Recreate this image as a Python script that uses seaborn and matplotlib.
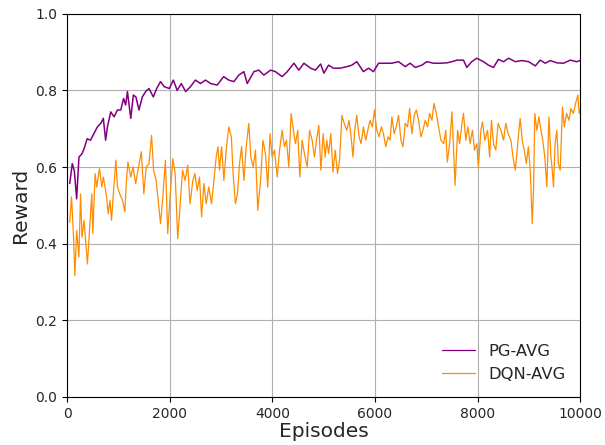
import seaborn as sns
import matplotlib.pyplot as plt
import pandas as pd

# values
pg_episodes = [50, 100, 140, 185, 230, 290, 330, 390, 455, 520, 590, 655, 705, 750, 785,
               850, 915, 980, 1045, 1100, 1140, 1175, 1240, 1290, 1340, 1400, 1465, 1530,
               1595, 1680, 1745, 1820, 1890, 1990, 2070, 2145, 2225, 2310, 2405, 2500, 2600,
               2695, 2795, 2925, 3050, 3150, 3250, 3345, 3445, 3510, 3640, 3735, 3835, 3965,
               4060, 4190, 4290, 4420, 4515, 4615, 4745, 4840, 4940, 5005, 5095, 5190, 5320,
               5450, 5550, 5645, 5775, 5875, 5970, 6070, 6200, 6330, 6460, 6590, 6685, 6785,
               6915, 7010, 7140, 7270, 7400, 7500, 7595, 7725, 7790, 7885, 7985, 8115, 8210,
               8310, 8405, 8505, 8605, 8735, 8865, 8995, 9125, 9220, 9320, 9415, 9545, 9675,
               9805, 9935, 10000]
pg_reward = [0.557, 0.609, 0.59, 0.517, 0.626, 0.635, 0.648, 0.674, 0.67, 0.687, 0.705, 0.714,
             0.727, 0.67, 0.705, 0.744, 0.731, 0.749, 0.749, 0.779, 0.762, 0.797, 0.727, 0.788,
             0.783, 0.749, 0.783, 0.797, 0.805, 0.783, 0.805, 0.823, 0.81, 0.805, 0.827, 0.80,
             0.818, 0.797, 0.81, 0.827, 0.818, 0.827, 0.818, 0.814, 0.836, 0.827, 0.823, 0.84,
             0.849, 0.818, 0.849, 0.853, 0.84, 0.853, 0.849, 0.836, 0.849, 0.871, 0.853, 0.871,
             0.858, 0.853, 0.869, 0.845, 0.866, 0.858, 0.858, 0.862, 0.866, 0.875, 0.849, 0.858,
             0.849, 0.871, 0.871, 0.871, 0.875, 0.862, 0.871, 0.86, 0.866, 0.875, 0.871, 0.871,
             0.872, 0.875, 0.879, 0.879, 0.86, 0.875, 0.884, 0.875, 0.866, 0.86, 0.881, 0.875,
             0.884, 0.875, 0.878, 0.875, 0.864, 0.879, 0.871, 0.878, 0.872, 0.871, 0.879, 0.875,
             0.878]

dqn_episodes = [50, 85, 125, 150, 185, 230, 260, 290, 330, 370, 395, 435, 480, 500, 545, 575,
                630, 675, 705, 770, 800, 835, 865, 900, 950, 980, 1025, 1080, 1125, 1155, 1185,
                1240, 1285, 1335, 1380, 1445, 1495, 1540, 1595, 1645, 1685, 1735, 1780, 1820,
                1865, 1915, 1960, 2005, 2060, 2105, 2155, 2200, 2250, 2300, 2350, 2395, 2450,
                2490, 2535, 2580, 2620, 2665, 2710, 2760, 2815, 2860, 2905, 2940, 2970, 3010,
                3055, 3100, 3150, 3200, 3235, 3280, 3320, 3360, 3400, 3445, 3490, 3540, 3580,
                3625, 3670, 3715, 3770, 3815, 3865, 3910, 3955, 3995, 4040, 4095, 4140, 4190,
                4235, 4275, 4320, 4365, 4410, 4450, 4495, 4535, 4580, 4625, 4680, 4725, 4775,
                4820, 4860, 4905, 4945, 4990, 5030, 5060, 5095, 5140, 5180, 5225, 5270, 5310,
                5355, 5400, 5450, 5495, 5535, 5570, 5605, 5645, 5690, 5730, 5775, 5820, 5860,
                5905, 5950, 5990, 6035, 6080, 6125, 6165, 6210, 6255, 6295, 6330, 6375, 6415,
                6460, 6505, 6545, 6590, 6635, 6675, 6720, 6765, 6805, 6850, 6895, 6935, 6980,
                7025, 7065, 7110, 7150, 7195, 7240, 7285, 7340, 7380, 7410, 7455, 7500, 7530,
                7560, 7610, 7650, 7695, 7725, 7770, 7810, 7855, 7900, 7940, 7985, 8015, 8065,
                8095, 8140, 8195, 8235, 8270, 8310, 8355, 8400, 8455, 8505, 8550, 8595, 8650,
                8690, 8735, 8765, 8805, 8830, 8870, 8910, 8950, 8990, 9030, 9065, 9090, 9115,
                9155, 9195, 9235, 9270, 9310, 9350, 9390, 9430, 9450, 9480, 9510, 9545, 9575,
                9610, 9655, 9690, 9735, 9780, 9820, 9865, 9910, 9955, 9980, 10000]
dqn_reward = [0.456, 0.522, 0.417, 0.317, 0.435, 0.365, 0.53, 0.417, 0.461, 0.391, 0.347, 0.435,
              0.53, 0.426, 0.583, 0.548, 0.596, 0.548, 0.574, 0.522, 0.478, 0.513, 0.461, 0.53,
              0.618, 0.548, 0.53, 0.513, 0.483, 0.565, 0.613, 0.574, 0.60, 0.557, 0.592, 0.64,
              0.53, 0.60, 0.609, 0.683, 0.592, 0.565, 0.504, 0.452, 0.522, 0.618, 0.426, 0.522,
              0.622, 0.583, 0.413, 0.496, 0.592, 0.565, 0.605, 0.504, 0.565, 0.583, 0.539, 0.574,
              0.47, 0.557, 0.504, 0.548, 0.504, 0.565, 0.626, 0.653, 0.592, 0.653, 0.565, 0.644,
              0.705, 0.679, 0.583, 0.504, 0.53, 0.609, 0.653, 0.565, 0.653, 0.714, 0.626, 0.60,
              0.644, 0.487, 0.565, 0.67, 0.635, 0.548, 0.687, 0.626, 0.644, 0.574, 0.644, 0.696,
              0.653, 0.67, 0.60, 0.74, 0.696, 0.661, 0.696, 0.574, 0.67, 0.635, 0.60, 0.696,
              0.67, 0.626, 0.67, 0.709, 0.592, 0.687, 0.626, 0.67, 0.635, 0.687, 0.587, 0.644,
              0.583, 0.618, 0.735, 0.714, 0.696, 0.722, 0.679, 0.626, 0.696, 0.735, 0.679, 0.661,
              0.705, 0.67, 0.696, 0.722, 0.705, 0.749, 0.696, 0.679, 0.705, 0.687, 0.653, 0.679,
              0.67, 0.731, 0.687, 0.705, 0.735, 0.67, 0.653, 0.714, 0.705, 0.753, 0.687, 0.735,
              0.749, 0.722, 0.679, 0.696, 0.722, 0.705, 0.74, 0.722, 0.766, 0.74, 0.705, 0.67,
              0.661, 0.696, 0.613, 0.661, 0.744, 0.653, 0.552, 0.696, 0.661, 0.714, 0.74, 0.67,
              0.705, 0.661, 0.696, 0.644, 0.661, 0.60, 0.696, 0.718, 0.67, 0.696, 0.626, 0.722,
              0.661, 0.644, 0.714, 0.696, 0.67, 0.714, 0.687, 0.67, 0.626, 0.592, 0.635, 0.696,
              0.727, 0.67, 0.644, 0.609, 0.653, 0.583, 0.452, 0.539, 0.74, 0.696, 0.731, 0.696,
              0.67, 0.626, 0.548, 0.731, 0.626, 0.60, 0.548, 0.661, 0.696, 0.609, 0.592, 0.757,
              0.705, 0.74, 0.722, 0.753, 0.74, 0.766, 0.788, 0.74, 0.749]

pg = pd.DataFrame({'Episodes': pg_episodes, 'Reward': pg_reward})
dqn = pd.DataFrame({'Episodes': dqn_episodes, 'Reward': dqn_reward})

sns.set_style('ticks')
plt.rcParams['font.family'] = ['DejaVu Sans']

fig, ax = plt.subplots(figsize=(6.05, 4.45), dpi=100)
fig.subplots_adjust(left=0.111, right=0.959, top=0.969, bottom=0.108)

sns.lineplot(data=pg, x='Episodes', y='Reward', color='purple', linewidth=1.1,
             label='PG-AVG', ax=ax)
sns.lineplot(data=dqn, x='Episodes', y='Reward', color='darkorange', linewidth=0.9,
             label='DQN-AVG', ax=ax)

ax.set_xlim(0, 10000)
ax.set_ylim(0, 1.0)
ax.set_xticks([0, 2000, 4000, 6000, 8000, 10000])
ax.set_yticks([0.0, 0.2, 0.4, 0.6, 0.8, 1.0])
ax.tick_params(labelsize=10, length=3.5, width=0.8, color='black')
ax.grid(True, color='#b0b0b0', linewidth=0.8)
for s in ax.spines.values():
    s.set_color('black')
    s.set_linewidth(0.8)
ax.set_xlabel('Episodes', fontsize=14.5, labelpad=1)
ax.set_ylabel('Reward', fontsize=14.5, labelpad=4)
leg = ax.legend(loc='lower right', frameon=False, fontsize=11.8)
for line in leg.get_lines():
    line.set_linewidth(0.9)

plt.savefig('out.png', dpi=100)
